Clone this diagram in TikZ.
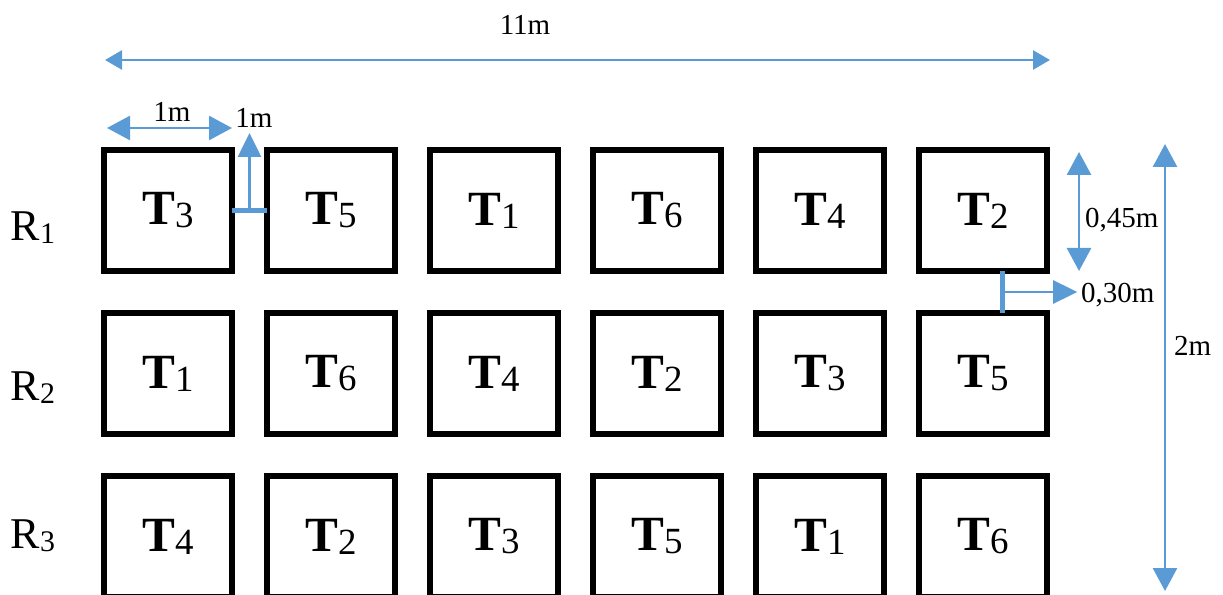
\documentclass[tikz,border=0pt]{standalone}
\usepackage{fontspec}
\setmainfont{Liberation Serif}
\usetikzlibrary{positioning,arrows.meta,calc}

\definecolor{dimblue}{RGB}{91,155,213}
\newcommand{\tk}[1]{T\raisebox{-0.06cm}{\fontsize{21}{21}\selectfont\mdseries #1}}
\newcommand{\rw}[1]{R\raisebox{-0.06cm}{\fontsize{17}{17}\selectfont #1}}

\begin{document}
\begin{tikzpicture}[
			node distance=0.84cm and 0.7cm,
			box/.style={
				draw,
				line width=2.9pt,
				outer sep=0pt,
				minimum width=2.56cm,
				minimum height=2.42cm,
				font=\fontsize{28}{30}\selectfont\bfseries
			},
			rowlab/.style={font=\fontsize{25}{27}\selectfont},
			dimlab/.style={font=\fontsize{16.5}{18}\selectfont,inner sep=1pt},
			dim/.style={draw=dimblue,line width=1.5pt,{Triangle[length=0.46cm,width=0.48cm]}-{Triangle[length=0.46cm,width=0.48cm]}},
			dimone/.style={draw=dimblue,line width=1.5pt,-{Triangle[length=0.48cm,width=0.46cm]}},
			dimbar/.style={draw=dimblue,line width=2.6pt}
			]
			
			\useasboundingbox (0,0) rectangle (24.46,-11.9);
			
			% row 1
			\node[box] (t11) at (3.36,-4.21) {\tk{3}};
			\node[box,right=of t11] (t12) {\tk{5}};
			\node[box,right=of t12] (t13) {\tk{1}};
			\node[box,right=of t13] (t14) {\tk{6}};
			\node[box,right=of t14] (t15) {\tk{4}};
			\node[box,right=of t15] (t16) {\tk{2}};
			
			% row 2
			\node[box,below=of t11] (t21) {\tk{1}};
			\node[box,right=of t21] (t22) {\tk{6}};
			\node[box,right=of t22] (t23) {\tk{4}};
			\node[box,right=of t23] (t24) {\tk{2}};
			\node[box,right=of t24] (t25) {\tk{3}};
			\node[box,right=of t25] (t26) {\tk{5}};
			
			% row 3
			\node[box,below=of t21] (t31) {\tk{4}};
			\node[box,right=of t31] (t32) {\tk{2}};
			\node[box,right=of t32] (t33) {\tk{3}};
			\node[box,right=of t33] (t34) {\tk{5}};
			\node[box,right=of t34] (t35) {\tk{1}};
			\node[box,right=of t35] (t36) {\tk{6}};
			
			\node[rowlab] (r1) at (0.66,-4.55) {\rw{1}};
			\node[rowlab] (r2) at (0.66,-7.75) {\rw{2}};
			\node[rowlab] (r3) at (0.66,-10.72) {\rw{3}};
			
			% total length
			\coordinate (lenA) at (2.1,-1.2);
			\coordinate (lenB) at (21.0,-1.2);
			\draw[draw=dimblue,line width=1.5pt,{Triangle[length=0.34cm,width=0.38cm]}-{Triangle[length=0.34cm,width=0.38cm]}] (lenA)--(lenB);
			\node[dimlab] (lenlab) at (10.5,-0.5) {11m};
			
			% box width
			\coordinate (wA) at (2.14,-2.56);
			\coordinate (wB) at (4.64,-2.56);
			\draw[dim] (wA)--(wB);
			\node[dimlab] (wlab) at (3.44,-2.24) {1m};
			
			% gap between boxes
			\draw[dimbar] (t11.east)--(t12.west);
			\coordinate (gapmid) at ($(t11.east)!0.5!(t12.west)$);
			\coordinate (gaptop) at ($(gapmid)+(0,1.55)$);
			\draw[dimone] (gapmid)--(gaptop);
			\node[dimlab] (gaplab) at (5.08,-2.36) {1m};
			
			% box height
			\coordinate (hA) at (21.58,-3.04);
			\coordinate (hB) at (21.58,-5.42);
			\draw[dim] (hA)--(hB);
			\node[dimlab,anchor=west] (hlab) at (21.66,-4.4) {0,45m};
			
			% gap between rows
			\coordinate (rgA) at ($(t16.south west)!0.65!(t16.south east)$);
			\coordinate (rgB) at ($(t26.north west)!0.65!(t26.north east)$);
			\draw[dimbar] (rgA)--(rgB);
			\coordinate (rgmid) at ($(rgA)!0.5!(rgB)$);
			\coordinate (rgend) at ($(rgmid)+(1.5,0)$);
			\draw[dimone] (rgmid)--(rgend);
			\node[dimlab,anchor=west] (rglab) at (21.58,-5.9) {0,30m};
			
			% total width
			\coordinate (dA) at (23.3,-2.88);
			\coordinate (dB) at (23.3,-11.82);
			\draw[dim] (dA)--(dB);
			\node[dimlab,anchor=west] (dlab) at (23.44,-6.92) {2m};
			
		\end{tikzpicture}
\end{document}
